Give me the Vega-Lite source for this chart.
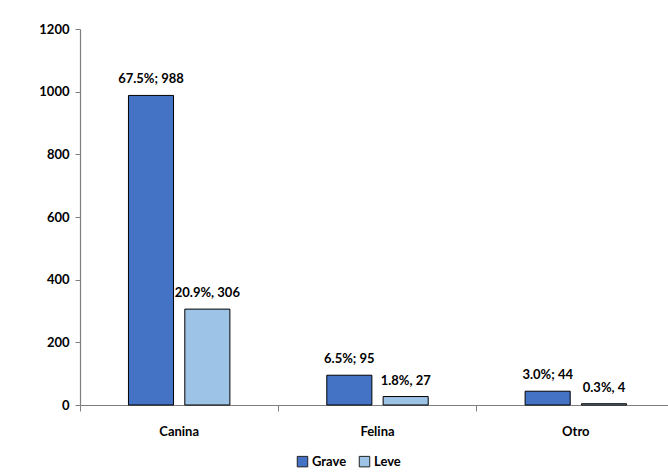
{
  "$schema": "https://vega.github.io/schema/vega-lite/v6.json",
  "autosize": "none",
  "width": 595,
  "height": 376,
  "padding": {"left": 80, "top": 29, "right": 0, "bottom": 67},
  "background": "white",
  "config": {
    "view": {"stroke": null},
    "font": "Lato",
    "axis": {"labelFont": "Lato", "labelFontWeight": "bold", "labelColor": "black", "labelFontSize": 13, "domainColor": "#7f7f7f", "tickColor": "#7f7f7f", "grid": false}
  },
  "data": {
    "values": [
      {"especie": "Canina", "tipo": "Grave", "n": 988, "label": "67.5%; 988"},
      {"especie": "Canina", "tipo": "Leve", "n": 306, "label": "20.9%, 306"},
      {"especie": "Felina", "tipo": "Grave", "n": 95, "label": "6.5%; 95"},
      {"especie": "Felina", "tipo": "Leve", "n": 27, "label": "1.8%, 27"},
      {"especie": "Otro", "tipo": "Grave", "n": 44, "label": "3.0%; 44"},
      {"especie": "Otro", "tipo": "Leve", "n": 4, "label": "0.3%, 4"}
    ]
  },
  "encoding": {
    "x": {
      "field": "especie", "type": "nominal", "sort": ["Canina", "Felina", "Otro"],
      "scale": {"paddingInner": 0, "paddingOuter": 0},
      "axis": {"title": null, "labelAngle": 0, "bandPosition": 0, "tickSize": 6, "labelPadding": 14, "domainWidth": 1.2}
    },
    "xOffset": {"field": "tipo", "type": "nominal", "scale": {"paddingInner": 0.2, "paddingOuter": 0.86}},
    "y": {
      "field": "n", "type": "quantitative",
      "scale": {"domain": [0, 1200]},
      "axis": {"title": null, "values": [0, 200, 400, 600, 800, 1000, 1200], "format": "d", "tickSize": 5, "labelPadding": 6, "domainWidth": 1.2}
    }
  },
  "layer": [
    {
      "mark": {"type": "bar", "stroke": "black", "strokeWidth": 1},
      "encoding": {
        "color": {
          "field": "tipo", "type": "nominal",
          "scale": {"domain": ["Grave", "Leve"], "range": ["#4472C4", "#9DC3E6"]},
          "legend": {
            "title": null, "orient": "none", "direction": "horizontal",
            "legendX": 216, "legendY": 426,
            "symbolType": "square", "symbolSize": 110, "symbolStrokeColor": "#222222", "symbolStrokeWidth": 1, "symbolOpacity": 1,
            "labelFont": "Lato", "labelFontWeight": "bold", "labelFontSize": 13, "labelColor": "black",
            "columnPadding": 10, "labelOffset": 3
          }
        }
      }
    },
    {
      "mark": {"type": "text", "baseline": "bottom", "dy": -9, "font": "Lato", "fontWeight": "bold", "fontSize": 13, "color": "black"},
      "encoding": {"text": {"field": "label"}}
    }
  ]
}
